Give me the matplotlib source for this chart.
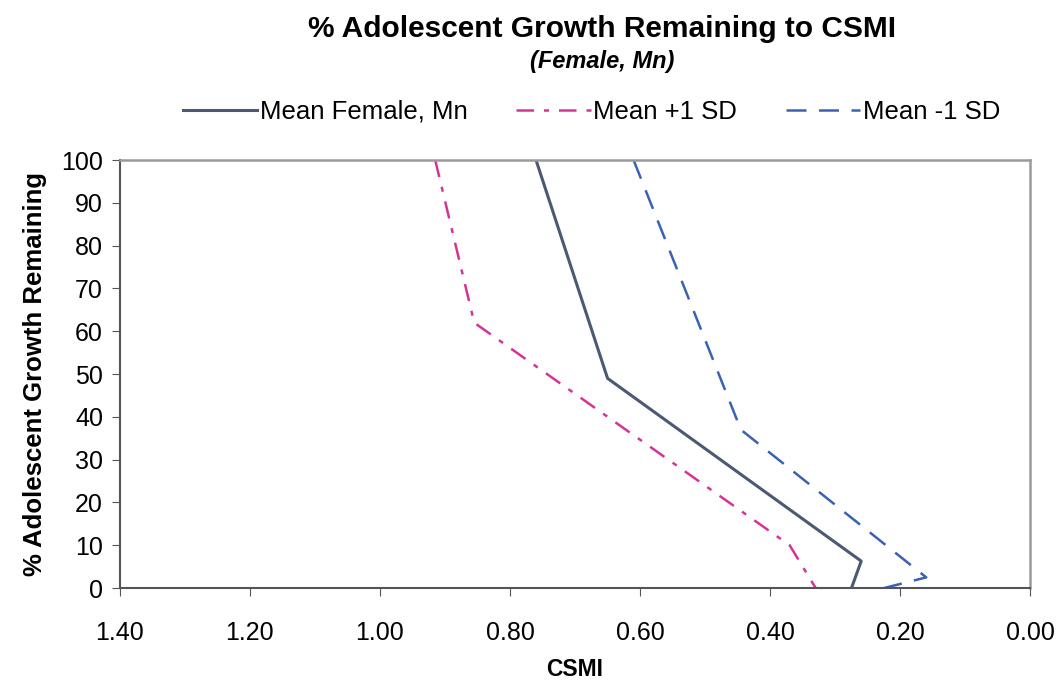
import matplotlib
matplotlib.use("Agg")
import matplotlib.pyplot as plt

plt.rcParams['font.family'] = ['Liberation Sans', 'DejaVu Sans']

# growth remaining (%) vs CSMI
mean_csmi = [0.76, 0.65, 0.26, 0.275]
mean_pct = [100, 49, 6.3, 0]

plus_csmi = [0.915, 0.855, 0.37, 0.33]
plus_pct = [100, 62, 10, 0]

minus_csmi = [0.61, 0.445, 0.16, 0.225]
minus_pct = [100, 37, 2.5, 0]

x_ticks = [1.40, 1.20, 1.00, 0.80, 0.60, 0.40, 0.20, 0.00]
y_ticks = list(range(0, 101, 10))

fig = plt.figure(figsize=(10.6, 6.87), dpi=100)
ax = fig.add_axes([0.113, 0.144, 0.859, 0.623])

ax.plot(mean_csmi, mean_pct, color="#4b5a72", lw=2.2, label="Mean Female, Mn")
ax.plot(plus_csmi, plus_pct, color="#d4349a", lw=1.8, dashes=[7, 4, 2, 4],
        label="Mean +1 SD")
ax.plot(minus_csmi, minus_pct, color="#3b62b0", lw=1.8, dashes=[8, 5],
        label="Mean -1 SD")

ax.set_xlim(1.40, 0.00)
ax.set_ylim(0, 100)
ax.set_xticks(x_ticks)
ax.set_xticklabels(["{:.2f}".format(v) for v in x_ticks])
ax.set_yticks(y_ticks)
ax.tick_params(axis="both", labelsize=18, direction="out", length=6,
               color="#555555")
ax.tick_params(axis="x", pad=18)
ax.tick_params(axis="y", pad=6)

for side in ["top", "right"]:
    ax.spines[side].set_color("#9a9a9a")
    ax.spines[side].set_linewidth(1.8)
for side in ["left", "bottom"]:
    ax.spines[side].set_color("#555555")
    ax.spines[side].set_linewidth(1.5)

ax.set_xlabel("CSMI", fontsize=16.5, fontweight="bold", labelpad=9)
ax.set_ylabel("% Adolescent Growth Remaining", fontsize=18.5,
              fontweight="bold", labelpad=10)

fig.text(0.568, 0.958, "% Adolescent Growth Remaining to CSMI",
         ha="center", va="center", fontsize=21.5, fontweight="bold")
fig.text(0.568, 0.91, "(Female, Mn)", ha="center", va="center",
         fontsize=17, fontweight="bold", style="italic")

fig.legend(loc="center", bbox_to_anchor=(0.558, 0.837), ncol=3, frameon=False,
           fontsize=18.5, handlelength=2.9, columnspacing=1.9,
           handletextpad=0.1)

fig.savefig("out.png", dpi=100)
